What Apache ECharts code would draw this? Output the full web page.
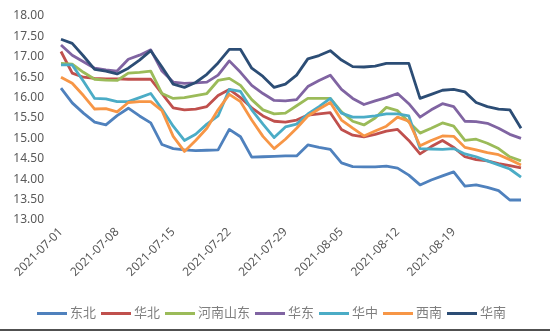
<!DOCTYPE html>
<html>
<head>
<meta charset="utf-8">
<script src="https://cdn.jsdelivr.net/npm/echarts@6/dist/echarts.min.js"></script>
<style>
  html, body { margin: 0; padding: 0; background: #fff; }
  #chart { width: 550px; height: 331px; }
</style>
</head>
<body>
<div id="chart"></div>
<script>
// Trading days, 2021-07-01 .. 2021-08-27
const dates = [
  '2021-07-01','2021-07-02','2021-07-05','2021-07-06','2021-07-07','2021-07-08','2021-07-09',
  '2021-07-12','2021-07-13','2021-07-14','2021-07-15','2021-07-16',
  '2021-07-19','2021-07-20','2021-07-21','2021-07-22','2021-07-23',
  '2021-07-26','2021-07-27','2021-07-28','2021-07-29','2021-07-30',
  '2021-08-02','2021-08-03','2021-08-04','2021-08-05','2021-08-06',
  '2021-08-09','2021-08-10','2021-08-11','2021-08-12','2021-08-13',
  '2021-08-16','2021-08-17','2021-08-18','2021-08-19','2021-08-20',
  '2021-08-23','2021-08-24','2021-08-25','2021-08-26','2021-08-27'
];

// Dates printed under the axis (weekly)
const tickLabels = ['2021-07-01','2021-07-08','2021-07-15','2021-07-22','2021-07-29','2021-08-05','2021-08-12','2021-08-19'];

const dongbei = [16.23,15.87,15.62,15.40,15.33,15.56,15.74,15.55,15.38,14.85,14.75,14.72,14.70,14.71,14.72,15.22,15.04,14.54,14.55,14.56,14.57,14.57,14.84,14.78,14.73,14.40,14.31,14.30,14.30,14.32,14.27,14.10,13.86,13.98,14.08,14.18,13.83,13.86,13.80,13.72,13.49,13.49];
const huabei = [17.13,16.60,16.50,16.47,16.46,16.46,16.45,16.45,16.45,16.10,15.75,15.70,15.72,15.78,16.05,16.20,16.00,15.75,15.55,15.42,15.40,15.45,15.57,15.60,15.63,15.22,15.08,15.04,15.10,15.18,15.22,14.95,14.62,14.80,14.95,14.78,14.55,14.48,14.45,14.38,14.33,14.28];
const henanShandong = [16.84,16.82,16.62,16.45,16.43,16.42,16.60,16.62,16.65,16.10,15.98,16.00,16.05,16.10,16.42,16.47,16.30,15.95,15.70,15.60,15.62,15.80,15.98,15.98,15.98,15.65,15.42,15.33,15.50,15.76,15.68,15.40,15.13,15.25,15.38,15.30,14.95,14.98,14.88,14.75,14.55,14.45];
const huadong = [17.29,17.04,16.88,16.72,16.68,16.65,16.94,17.04,17.17,16.65,16.38,16.35,16.36,16.38,16.55,16.90,16.62,16.30,16.10,15.93,15.92,15.95,16.27,16.42,16.55,16.20,15.98,15.83,15.92,16.00,16.10,15.85,15.52,15.70,15.85,15.78,15.42,15.41,15.37,15.25,15.10,15.00];
const huazhong = [16.80,16.80,16.40,15.98,15.97,15.90,15.90,16.00,16.10,15.72,15.30,14.95,15.10,15.35,15.55,16.20,16.15,15.70,15.35,15.02,15.28,15.35,15.60,15.78,15.98,15.62,15.52,15.52,15.55,15.60,15.60,15.55,14.75,14.74,14.73,14.75,14.62,14.55,14.45,14.35,14.25,14.05];
const xinan = [16.50,16.35,16.05,15.72,15.73,15.65,15.88,15.90,15.90,15.68,15.05,14.68,14.95,15.25,15.70,16.08,15.90,15.45,15.05,14.75,14.98,15.25,15.55,15.72,15.88,15.45,15.25,15.06,15.18,15.30,15.52,15.42,14.82,14.95,15.06,15.05,14.78,14.72,14.65,14.60,14.48,14.35];
const huanan = [17.43,17.33,17.02,16.69,16.65,16.58,16.72,16.92,17.15,16.75,16.33,16.25,16.37,16.57,16.85,17.18,17.18,16.72,16.52,16.25,16.33,16.55,16.95,17.03,17.15,16.92,16.76,16.75,16.77,16.84,16.84,16.84,15.98,16.08,16.18,16.20,16.14,15.88,15.78,15.72,15.70,15.25];

const seriesNames = ['东北','华北','河南山东','华东','华中','西南','华南'];
const seriesData = [dongbei, huabei, henanShandong, huadong, huazhong, xinan, huanan];
const palette = ['#4F81BD','#C0504D','#9BBB59','#8064A2','#4BACC6','#F79646','#2C4D75'];

const textColor = '#595959';
const fontFamily = '"Noto Sans", "Noto Sans CJK SC", sans-serif';

const chart = echarts.init(document.getElementById('chart'));
chart.setOption({
  animation: false,
  color: palette,
  textStyle: { fontFamily: fontFamily },
  grid: { left: 61, right: 29, top: 16, bottom: 111, containLabel: false },
  xAxis: {
    type: 'category',
    data: dates,
    boundaryGap: false,
    axisLine: { show: false },
    axisTick: { show: false },
    axisLabel: {
      interval: (idx, value) => tickLabels.indexOf(value) !== -1,
      rotate: 45,
      margin: 10,
      color: textColor,
      fontSize: 12,
      fontFamily: fontFamily
    },
    splitLine: { show: false }
  },
  yAxis: {
    type: 'value',
    min: 13,
    max: 18,
    interval: 0.5,
    axisLine: { show: false },
    axisTick: { show: false },
    splitLine: { show: false },
    axisLabel: {
      margin: 17,
      color: textColor,
      fontSize: 12,
      fontFamily: fontFamily,
      formatter: v => v.toFixed(2)
    }
  },
  legend: {
    bottom: 6,
    left: 32,
    icon: 'rect',
    itemWidth: 30,
    itemHeight: 3,
    itemGap: 5,
    textStyle: { color: '#7f7f7f', fontSize: 13, fontFamily: fontFamily, padding: [0, 0, 0, -2] },
    data: seriesNames
  },
  series: seriesNames.map((name, i) => ({
    name: name,
    type: 'line',
    data: seriesData[i],
    symbol: 'none',
    lineStyle: { width: 2.8, color: palette[i], join: 'round' },
    itemStyle: { color: palette[i] }
  })),
  graphic: [{
    type: 'rect',
    left: 0,
    bottom: 0,
    shape: { width: 550, height: 2 },
    style: { fill: '#505050' }
  }]
});
</script>
</body>
</html>
